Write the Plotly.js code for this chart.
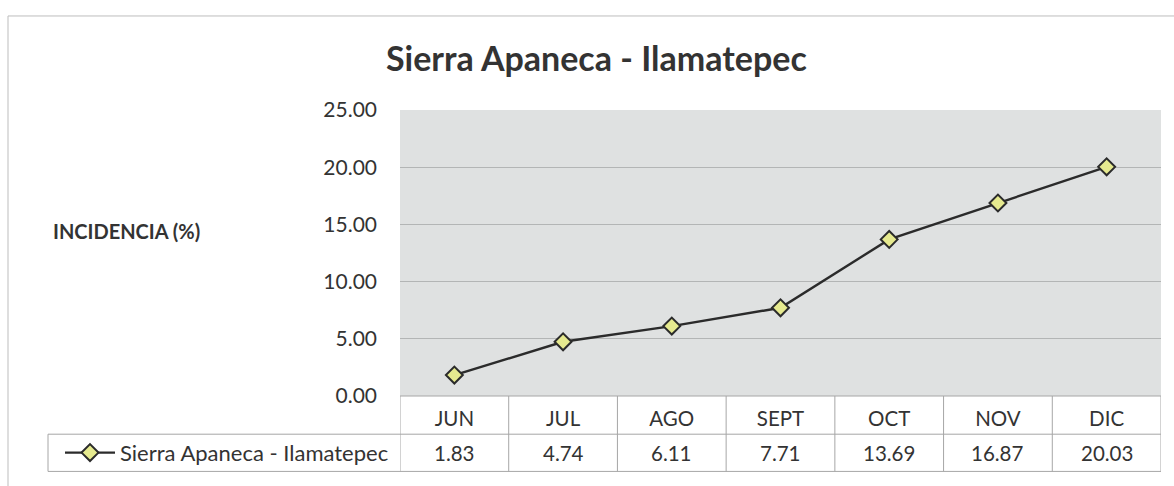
<!DOCTYPE html>
<html>
<head>
<meta charset="utf-8">
<script src="https://cdn.plot.ly/plotly-3.0.1.min.js"></script>
<style>html,body{margin:0;padding:0;background:#fff;}#chart{width:1174px;height:486px;}</style>
</head>
<body>
<div id="chart"></div>
<script>
var months = ["JUN", "JUL", "AGO", "SEPT", "OCT", "NOV", "DIC"];
var incidencia = [1.83, 4.74, 6.11, 7.71, 13.69, 16.87, 20.03];
var seriesName = "Sierra Apaneca - Ilamatepec";
var chartTitle = "Sierra Apaneca - Ilamatepec";
var yTitle = "INCIDENCIA (%)";
var yTicks = [0, 5, 10, 15, 20, 25];

var W = 1174, H = 486;
var L = 400, R = 13, T = 110, B = 84;
var pw = W - L - R, ph = H - T - B;
function px(x) { return (x - L) / pw; }
function py(y) { return (H - B - y) / ph; }

var fontFam = "Lato, 'Open Sans', sans-serif";
var txt = "#333333";
var lineC = "#a6a6a6";

var trace = {
  x: months,
  y: incidencia,
  type: "scatter",
  mode: "lines+markers",
  name: seriesName,
  line: { color: "#2b2b2b", width: 2.4 },
  marker: { symbol: "diamond", size: 13, color: "#e6ea8f", line: { color: "#2b2b2b", width: 2 } }
};

var shapes = [];
var rowTop = py(402), rowMid = py(441), rowBot = py(479);
// outer chart border
shapes.push({ type: "rect", xref: "paper", yref: "paper", x0: px(8), x1: px(1180), y0: py(14), y1: py(495),
  line: { color: "#bdbdbd", width: 1 } });
// table horizontal lines
shapes.push({ type: "line", xref: "paper", yref: "paper", x0: 0, x1: 1, y0: rowTop, y1: rowTop, line: { color: lineC, width: 1 } });
shapes.push({ type: "line", xref: "paper", yref: "paper", x0: px(48), x1: 1, y0: rowMid, y1: rowMid, line: { color: lineC, width: 1 } });
shapes.push({ type: "line", xref: "paper", yref: "paper", x0: px(48), x1: 1, y0: rowBot, y1: rowBot, line: { color: lineC, width: 1 } });
shapes.push({ type: "line", xref: "paper", yref: "paper", x0: px(48), x1: px(48), y0: rowMid, y1: rowBot, line: { color: lineC, width: 1 } });
// column dividers at category boundaries
for (var i = 0; i <= months.length; i++) {
  shapes.push({ type: "line", xref: "x", yref: "paper", x0: i - 0.5, x1: i - 0.5, y0: rowTop, y1: rowBot, line: { color: lineC, width: 1 } });
}

var annotations = [];
annotations.push({ text: yTitle, xref: "paper", yref: "paper", x: px(51), y: py(234), xanchor: "left", yanchor: "middle",
  showarrow: false, font: { family: fontFam, size: 20, color: txt, weight: "bold" } });
for (var j = 0; j < months.length; j++) {
  annotations.push({ text: incidencia[j].toFixed(2), xref: "x", yref: "paper", x: months[j], y: py(460),
    xanchor: "center", yanchor: "middle", showarrow: false, font: { family: fontFam, size: 20.5, color: txt } });
}

var layout = {
  width: W, height: H,
  margin: { l: L, r: R, t: T, b: B, pad: 0 },
  paper_bgcolor: "#ffffff",
  plot_bgcolor: "#dfe1e1",
  title: { text: chartTitle, x: 0.508, xanchor: "center", y: 1 - 59 / H, yanchor: "middle",
    font: { family: fontFam, size: 34, color: "#333333", weight: "bold" } },
  xaxis: {
    type: "category", range: [-0.5, months.length - 0.5],
    showgrid: false, zeroline: false, showline: false, ticks: "",
    tickfont: { family: fontFam, size: 20.5, color: txt },
    ticklabelstandoff: 8, fixedrange: true
  },
  yaxis: {
    range: [0, 25], tickvals: yTicks, ticktext: yTicks.map(function (v) { return v.toFixed(2); }),
    showgrid: true, gridcolor: "#b3b5b5", gridwidth: 1, zeroline: false, showline: false, ticks: "",
    tickfont: { family: fontFam, size: 21, color: txt }, ticklabelstandoff: 22, fixedrange: true
  },
  showlegend: true,
  legend: { x: px(60), y: py(460), xanchor: "left", yanchor: "middle", bgcolor: "rgba(0,0,0,0)",
    itemwidth: 50, font: { family: fontFam, size: 22, color: txt }, borderwidth: 0 },
  shapes: shapes,
  annotations: annotations
};

Plotly.newPlot("chart", [trace], layout, { displayModeBar: false, staticPlot: true });
</script>
</body>
</html>
